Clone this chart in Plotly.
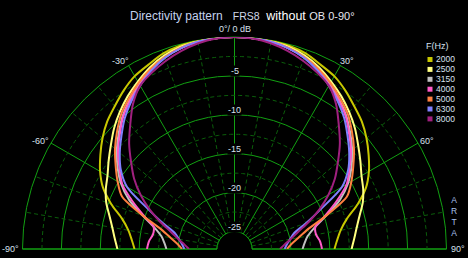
import math
import plotly.graph_objects as go

# ---------------- data ----------------
freqs = ["2000", "2500", "3150", "4000", "5000", "6300", "8000"]
colors = ["#c8c800", "#ffff80", "#c0c0c0", "#ff5ac8", "#ff8040", "#8080ff", "#a0207f"]
angles = [0, 5, 10, 15, 20, 25, 30, 35, 40, 45, 50, 55, 60, 65, 70, 75, 80, 85, 90]
db_2000 = [0, -0.02, -0.08, -0.2, -0.5, -1.1, -1.6, -2.4, -3.3, -4.1, -5.1, -6.2, -7.3, -8.6, -10.4, -12.3, -13.4, -14.0, -14.4]
db_2500 = [0, -0.05, -0.15, -0.35, -0.8, -1.5, -2.4, -3.3, -4.3, -5.35, -6.5, -7.5, -8.4, -9.0, -9.7, -10.6, -11.3, -11.8, -12.2]
db_3150 = [0, -0.05, -0.2, -0.5, -1.0, -1.8, -2.8, -3.8, -4.9, -6.2, -7.5, -8.9, -10.4, -12.3, -14.7, -16.6, -17.7, -18.2, -18.5]
db_4000 = [0, -0.05, -0.2, -0.5, -1.05, -1.85, -2.9, -3.9, -5.0, -6.4, -7.7, -9.2, -10.6, -12.8, -14.9, -16.5, -16.6, -16.2, -16.0]
db_5000 = [0, -0.05, -0.2, -0.5, -1.0, -1.7, -2.6, -3.6, -4.6, -5.9, -7.2, -8.6, -9.9, -11.3, -14.7, -17.5, -18.9, -19.9, -20.5]
db_6300 = [0, -0.05, -0.2, -0.55, -1.1, -1.95, -3.0, -4.1, -5.3, -6.7, -8.0, -9.4, -11.3, -14.9, -17.4, -19.3, -20.0, -20.5, -20.8]
db_8000 = [0, -0.1, -0.4, -0.9, -1.5, -2.2, -3.0, -4.5, -6.4, -8.1, -9.9, -11.5, -13.3, -15.2, -17.1, -18.8, -19.9, -20.8, -21.4]
series = [db_2000, db_2500, db_3150, db_4000, db_5000, db_6300, db_8000]

radial_ticks = [-25, -20, -15, -10, -5]
angle_ticks = [-90, -60, -30, 0, 30, 60, 90]
angle_labels = ["-90°", "-60°", "-30°", "0°/ 0 dB", "30°", "60°", "90°"]
RMIN, RMAX = -25, 0

# ---------------- geometry ----------------
W, H = 468, 258
CX, CY, R = 234.5, 249, 212
HOLE_PX = 17.5

GRID = "#12a012"
DGRID = "#0b5e0b"
TXT = "#d8e0ee"
FONT = "Liberation Sans, Arial, sans-serif"


def to_px(db, ang):
    rp = HOLE_PX + (db - RMIN) / (RMAX - RMIN) * (R - HOLE_PX)
    t = math.radians(ang)
    return CX + rp * math.sin(t), CY - rp * math.cos(t)


def px_paper(x, y):
    return x / W, 1 - y / H


fig = go.Figure()

# dashed minor grid: circles
fine = list(range(-90, 91, 2))
for rv in [-22.5, -17.5, -12.5, -7.5, -2.5]:
    fig.add_trace(go.Scatterpolar(r=[rv] * len(fine), theta=fine, mode="lines",
                                  line=dict(color=DGRID, width=1, dash="4px,3px"),
                                  hoverinfo="skip", showlegend=False))
# dashed minor grid: radials
for a in [-80, -70, -50, -40, -20, -10, 10, 20, 40, 50, 70, 80]:
    fig.add_trace(go.Scatterpolar(r=[RMIN, RMAX], theta=[a, a], mode="lines",
                                  line=dict(color=DGRID, width=1, dash="4px,3px"),
                                  hoverinfo="skip", showlegend=False))
# inner -25 circle (hole edge)
fig.add_trace(go.Scatterpolar(r=[RMIN] * len(fine), theta=fine, mode="lines",
                              line=dict(color=GRID, width=1),
                              hoverinfo="skip", showlegend=False))

# curves (mirrored 0-90 measurement)
for f, c, vals in zip(freqs, colors, series):
    th = [-a for a in reversed(angles)] + angles[1:]
    rr = list(reversed(vals)) + vals[1:]
    fig.add_trace(go.Scatterpolar(r=rr, theta=th, mode="lines", name=f,
                                  line=dict(color=c, width=2, shape="spline", smoothing=0.8),
                                  showlegend=False))

annotations = []
# title
title_html = ("<span style='color:#c4d2ee;font-size:12px'>Directivity pattern</span>"
              "&nbsp;&nbsp;&nbsp;<span style='color:#d0d8e8;font-size:10.5px'>FRS8</span>"
              "&nbsp;&nbsp;<span style='color:#ffffff;font-size:12.5px'>without</span>"
              "&nbsp;<span style='color:#e6e6ee;font-size:11px'>OB 0-90°</span>")
annotations.append(dict(text=title_html, x=128 / W, y=1 - 16 / H, xref="paper", yref="paper",
                        xanchor="left", yanchor="middle", showarrow=False,
                        font=dict(family=FONT, size=12, color=TXT)))

# angular labels
anchors = {-90: ("right", "middle", -2, 0), -60: ("right", "middle", 0, 2),
           -30: ("right", "middle", 2, 4), 0: ("center", "bottom", 0, 1),
           30: ("left", "middle", -3, 4), 60: ("left", "middle", 0, 2),
           90: ("left", "middle", 2, 0)}
for a, lab in zip(angle_ticks, angle_labels):
    x, y = to_px(RMAX, a)
    xa, ya, dx, dy = anchors[a]
    px, py = px_paper(x, y)
    annotations.append(dict(text=lab, x=px, y=py, xref="paper", yref="paper",
                            xanchor=xa, yanchor=ya, xshift=dx, yshift=dy, showarrow=False,
                            font=dict(family=FONT, size=9, color=TXT)))

# radial labels
for rv in radial_ticks:
    x, y = to_px(rv, 0)
    px, py = px_paper(x, y)
    annotations.append(dict(text=str(rv), x=px, y=py, xref="paper", yref="paper",
                            xanchor="center", yanchor="middle", yshift=5, showarrow=False,
                            bgcolor="#000000", borderpad=0,
                            font=dict(family=FONT, size=9, color=TXT)))

# legend
annotations.append(dict(text="F(Hz)", x=437 / W, y=1 - 46 / H, xref="paper", yref="paper",
                        xanchor="center", yanchor="middle", showarrow=False,
                        font=dict(family=FONT, size=9, color=TXT)))
shapes = []
for i, (f, c) in enumerate(zip(freqs, colors)):
    yc = 59.5 + i * 9.9
    shapes.append(dict(type="rect", xref="paper", yref="paper",
                       x0=427.5 / W, x1=432.5 / W, y0=1 - (yc + 2.5) / H, y1=1 - (yc - 2.5) / H,
                       fillcolor=c, line=dict(width=0)))
    annotations.append(dict(text=f, x=434 / W, y=1 - yc / H, xref="paper", yref="paper",
                            xanchor="left", yanchor="middle", showarrow=False,
                            font=dict(family=FONT, size=8.5, color=TXT)))

# ARTA vertical
annotations.append(dict(text="A<br>R<br>T<br>A", x=454 / W, y=1 - 216 / H, xref="paper", yref="paper",
                        xanchor="center", yanchor="middle", showarrow=False,
                        font=dict(family=FONT, size=8.5, color="#a8c0e8")))

fig.update_layout(
    width=W, height=H, margin=dict(l=0, r=0, t=0, b=0),
    paper_bgcolor="#000000", plot_bgcolor="#000000",
    showlegend=False,
    polar=dict(
        domain=dict(x=[(CX - R) / W, (CX + R) / W], y=[(H - CY) / H, (H - CY + R) / H]),
        sector=[0, 180], hole=HOLE_PX / R, bgcolor="#000000",
        radialaxis=dict(range=[RMIN, RMAX], tickvals=radial_ticks + [0], showticklabels=False,
                        ticks="", showline=False, gridcolor=GRID, gridwidth=1, angle=90,
                        layer="below traces"),
        angularaxis=dict(rotation=90, direction="clockwise", thetaunit="degrees",
                         tickmode="linear", tick0=0, dtick=30, showticklabels=False, ticks="",
                         showline=True, linecolor=GRID, linewidth=1, gridcolor=GRID, gridwidth=1,
                         layer="below traces"),
    ),
    annotations=annotations, shapes=shapes,
)

fig.write_html("out.html")
